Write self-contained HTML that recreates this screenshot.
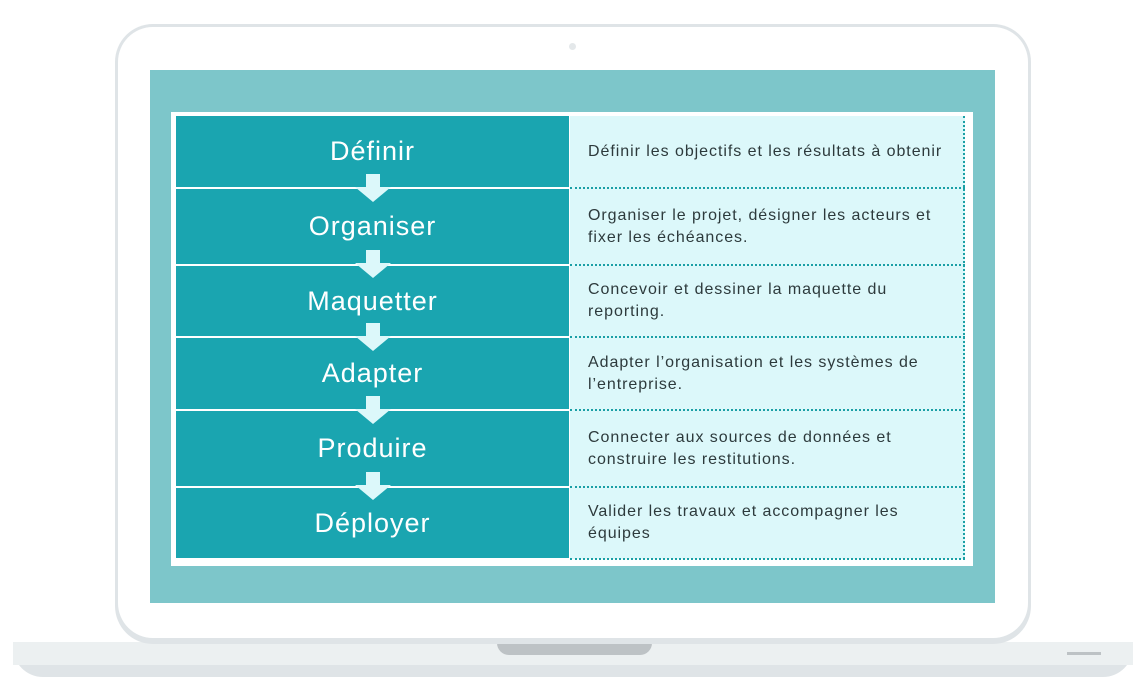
<!DOCTYPE html>
<html><head><meta charset="utf-8"><style>
*{margin:0;padding:0;box-sizing:border-box}
body{width:1144px;height:679px;background:#fff;position:relative;overflow:hidden;font-family:"Liberation Sans",sans-serif}
.a{position:absolute}
.l{position:absolute;left:176px;width:393px;background:#1aa5b0;color:#fff;font-size:27px;letter-spacing:1px;display:flex;align-items:center;justify-content:center}
.r{position:absolute;left:570px;width:395px;color:#2d3a3c;font-size:16px;letter-spacing:0.95px;line-height:22px;padding-left:18px;padding-right:14px;display:flex;align-items:center;border-bottom:2px dotted #1a9fa5}
.arr{position:absolute;left:355px;width:36px;height:28px}
</style></head><body>
<div class="a" style="left:13px;top:642px;width:1120px;height:35px;background:#dfe4e7;border-radius:0 0 30px 30px"></div>
<div class="a" style="left:13px;top:642px;width:1120px;height:23px;background:#ecf0f1"></div>
<div class="a" style="left:497px;top:643px;width:155px;height:12px;background:#bdc2c5;border-radius:0 0 12px 12px"></div>
<div class="a" style="left:1067px;top:652px;width:34px;height:3px;background:#bdc2c5"></div>
<div class="a" style="left:115px;top:24px;width:916px;height:620px;background:#dfe4e7;border-radius:38px"></div>
<div class="a" style="left:118px;top:27px;width:910px;height:611px;background:#fff;border-radius:35px"></div>
<div class="a" style="left:569px;top:43px;width:7px;height:7px;background:#e4e8ea;border-radius:50%"></div>
<div class="a" style="left:150px;top:70px;width:845px;height:533px;background:#7dc6ca"></div>
<div class="a" style="left:171px;top:112px;width:802px;height:454px;background:#fff"></div>
<div class="a" style="left:570px;top:116px;width:395px;height:443px;background:#dcf8fa;border-right:2px dotted #1a9fa5"></div>

<div class="l" style="top:116px;height:71px">Définir</div>
<div class="l" style="top:189px;height:75px">Organiser</div>
<div class="l" style="top:266px;height:70px">Maquetter</div>
<div class="l" style="top:338px;height:71px">Adapter</div>
<div class="l" style="top:411px;height:75px">Produire</div>
<div class="l" style="top:488px;height:70px">Déployer</div>

<div class="r" style="top:116px;height:73px">Définir les objectifs et les résultats à obtenir</div>
<div class="r" style="top:189px;height:77px">Organiser le projet, désigner les acteurs et fixer les échéances.</div>
<div class="r" style="top:266px;height:72px">Concevoir et dessiner la maquette du reporting.</div>
<div class="r" style="top:338px;height:73px">Adapter l’organisation et les systèmes de l’entreprise.</div>
<div class="r" style="top:411px;height:77px">Connecter aux sources de données et construire les restitutions.</div>
<div class="r" style="top:488px;height:72px">Valider les travaux et accompagner les équipes</div>

<svg class="arr" style="top:174px" viewBox="0 0 36 28"><path d="M11 0H25V13H36L18 28L0 13H11Z" fill="#dcf8fa"/></svg>
<svg class="arr" style="top:250px" viewBox="0 0 36 28"><path d="M11 0H25V13H36L18 28L0 13H11Z" fill="#dcf8fa"/></svg>
<svg class="arr" style="top:323px" viewBox="0 0 36 28"><path d="M11 0H25V13H36L18 28L0 13H11Z" fill="#dcf8fa"/></svg>
<svg class="arr" style="top:396px" viewBox="0 0 36 28"><path d="M11 0H25V13H36L18 28L0 13H11Z" fill="#dcf8fa"/></svg>
<svg class="arr" style="top:472px" viewBox="0 0 36 28"><path d="M11 0H25V13H36L18 28L0 13H11Z" fill="#dcf8fa"/></svg>
</body></html>
